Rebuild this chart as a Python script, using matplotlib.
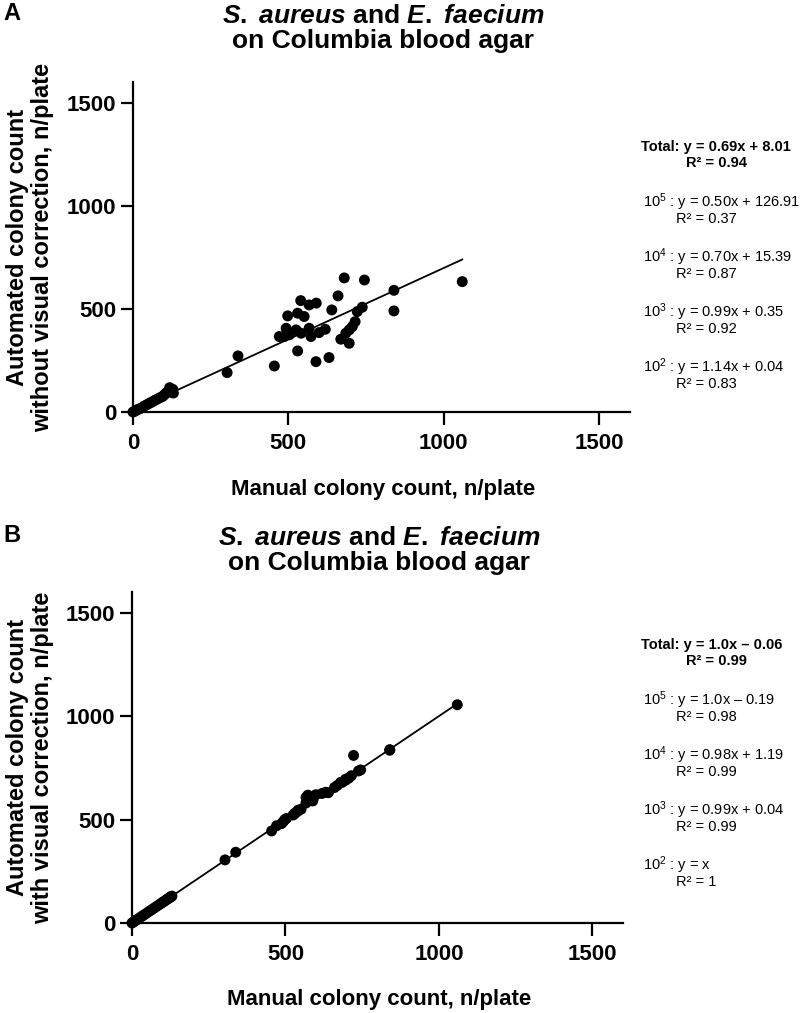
import numpy as np
import matplotlib
matplotlib.use("Agg")
import matplotlib.pyplot as plt

plt.rcParams['font.family'] = ['Liberation Sans', 'DejaVu Sans']
plt.rcParams['mathtext.fontset'] = 'custom'
plt.rcParams['mathtext.it'] = 'Liberation Sans:italic:bold'
plt.rcParams['mathtext.rm'] = 'Liberation Sans:bold'

# manual counts (same plates in both panels)
manual = [1060, 840, 840, 680, 745, 660, 540, 567, 590, 640, 498, 530, 551,
          738, 722, 715, 706, 696, 685, 669, 696, 493, 487, 471, 503, 525,
          541, 567, 573, 599, 619, 530, 631, 589, 455, 338, 303,
          0, 5, 10, 15, 20, 28, 35, 42, 50, 58, 65, 72, 80, 88, 95, 100,
          105, 110, 115, 118, 122, 125, 130, 128]

# automated count without visual correction (panel A)
auto_raw = [632, 590, 490, 650, 640, 563, 540, 519, 528, 495, 466, 479, 463,
            508, 487, 438, 414, 398, 382, 353, 333, 406, 366, 366, 374, 398,
            382, 406, 366, 385, 401, 296, 264, 244, 223, 272, 191,
            0, 3, 8, 12, 15, 20, 28, 33, 40, 46, 52, 58, 64, 70, 75, 82,
            90, 96, 100, 118, 105, 95, 92, 110]

# automated count with visual correction (panel B)
auto_corr = [1055, 835, 838, 680, 740, 655, 540, 607, 600, 630, 500, 528, 550,
             735, 810, 712, 700, 690, 680, 665, 695, 490, 480, 470, 505, 522,
             545, 580, 618, 620, 626, 530, 632, 590, 445, 342, 305,
             0, 5, 10, 15, 20, 28, 35, 42, 50, 58, 65, 72, 80, 88, 95, 100,
             105, 110, 115, 118, 122, 125, 130, 128]

fit_A = (0.69, 8.01)
fit_B = (1.0, -0.06)

ann_A = [("Total: y = 0.69x + 8.01", "R\u00b2 = 0.94"),
         ("$\\mathregular{10^5}$ : y = 0.50x + 126.91", "R\u00b2 = 0.37"),
         ("$\\mathregular{10^4}$ : y = 0.70x + 15.39", "R\u00b2 = 0.87"),
         ("$\\mathregular{10^3}$ : y = 0.99x + 0.35", "R\u00b2 = 0.92"),
         ("$\\mathregular{10^2}$ : y = 1.14x + 0.04", "R\u00b2 = 0.83")]
ann_B = [("Total: y = 1.0x \u2013 0.06", "R\u00b2 = 0.99"),
         ("$\\mathregular{10^5}$ : y = 1.0x \u2013 0.19", "R\u00b2 = 0.98"),
         ("$\\mathregular{10^4}$ : y = 0.98x + 1.19", "R\u00b2 = 0.99"),
         ("$\\mathregular{10^3}$ : y = 0.99x + 0.04", "R\u00b2 = 0.99"),
         ("$\\mathregular{10^2}$ : y = x", "R\u00b2 = 1")]

ticks = [0, 500, 1000, 1500]
W, H = 800, 1013

fig = plt.figure(figsize=(W / 100, H / 100), dpi=100)


def px(x, y):
    return x / W, 1 - y / H


def panel(rect, yvals, fit, letter, ylab2, ann, title_base, xlab_base, ann_top):
    l, t, r, b = rect
    ax = fig.add_axes([l / W, 1 - b / H, (r - l) / W, (b - t) / H])
    xs = np.array([0, max(manual)])
    ax.plot(xs, fit[0] * xs + fit[1], color='black', lw=1.3, zorder=2)
    ax.scatter(manual, yvals, s=62, color='black', edgecolor='none',
               zorder=3, clip_on=False)
    ax.set_xlim(0, 1600)
    ax.set_ylim(0, 1600)
    ax.set_xticks(ticks)
    ax.set_yticks(ticks)
    for s in ['top', 'right']:
        ax.spines[s].set_visible(False)
    for s in ['left', 'bottom']:
        ax.spines[s].set_linewidth(1.6)
    ax.tick_params(direction='out', length=9, width=1.6, labelsize=16)
    ax.tick_params(axis='y', pad=3)
    ax.tick_params(axis='x', pad=6)
    for lab in ax.get_xticklabels() + ax.get_yticklabels():
        lab.set_fontweight('bold')

    cx = (l + r) / 2 + 2
    ycen = (t + b) / 2
    fig.text(*px(cx, title_base),
             "$\\it{S.}$ $\\it{aureus}$ and $\\it{E.}$ $\\it{faecium}$",
             ha='center', va='baseline', fontsize=19, fontweight='bold')
    fig.text(*px(cx, title_base + 25), "on Columbia blood agar",
             ha='center', va='baseline', fontsize=19, fontweight='bold')
    fig.text(*px(3, title_base - 3), letter, ha='left', va='baseline',
             fontsize=17, fontweight='bold')
    fig.text(*px(18, ycen), "Automated colony count", rotation=90,
             ha='center', va='center', fontsize=17, fontweight='bold')
    fig.text(*px(43, ycen), ylab2, rotation=90,
             ha='center', va='center', fontsize=17, fontweight='bold')
    fig.text(*px(cx, xlab_base), "Manual colony count, n/plate",
             ha='center', va='baseline', fontsize=16, fontweight='bold')

    for i, (eq, r2) in enumerate(ann):
        y0 = ann_top + i * 55
        if i == 0:
            fig.text(*px(641, y0), eq, ha='left', va='center',
                     fontsize=10.5, fontweight='bold')
            fig.text(*px(686, y0 + 16), r2, ha='left', va='center',
                     fontsize=10.5, fontweight='bold')
        else:
            fig.text(*px(643, y0), eq, ha='left', va='center', fontsize=10.5)
            fig.text(*px(676, y0 + 17), r2, ha='left', va='center',
                     fontsize=10.5)
    return ax


panel((133, 82, 630, 412), auto_raw, fit_A, "A",
      "without visual correction, n/plate", ann_A, 23, 495, 147)
panel((132, 592, 623, 923), auto_corr, fit_B, "B",
      "with visual correction, n/plate", ann_B, 545, 1005, 645)

fig.savefig("out.png", dpi=100)
